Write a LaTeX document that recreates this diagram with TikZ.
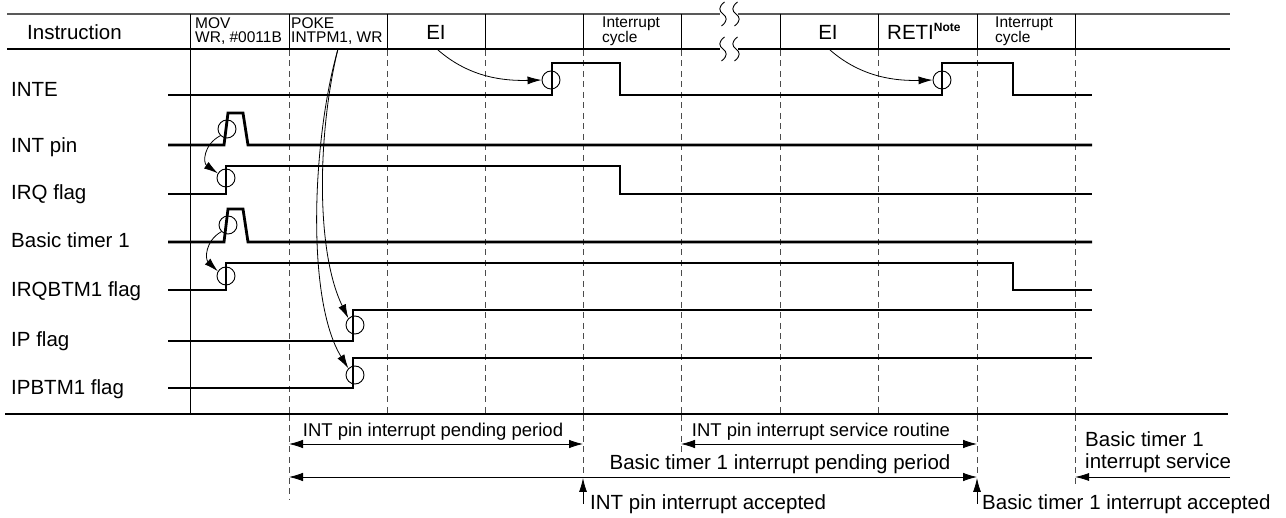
\documentclass[tikz,border=0pt]{standalone}
\usepackage{fontspec}
\setmainfont{Liberation Sans}
\usetikzlibrary{arrows.meta}
\begin{document}
\begin{tikzpicture}[x=1pt,y=-1pt,
  sig/.style={line width=2.8pt, line join=miter},
  thinl/.style={line width=0.9pt},
  gridl/.style={line width=1pt, black!70, dash pattern=on 6pt off 4.5pt},
  ring/.style={circle, draw, line width=0.9pt, minimum size=18pt, inner sep=0pt},
  arr/.style={line width=0.8pt, -{Latex[length=14pt,width=8pt]}},
  darr/.style={line width=0.8pt, {Latex[length=14pt,width=8.5pt]}-{Latex[length=14pt,width=8.5pt]}},
  big/.style={font=\fontsize{20.5}{22}\selectfont, inner sep=0pt},
  mid/.style={font=\fontsize{18.5}{20}\selectfont, inner sep=0pt},
  small/.style={font=\fontsize{15.5}{16}\selectfont, inner sep=0pt},
]
\useasboundingbox (0,0) rectangle (1286,518);

% header lines
\draw[line width=1.5pt, black!65] (7,14) -- (720,14) (738,14) -- (1230,14);
\draw[line width=1.2pt] (7,49) -- (720,49) (738,49) -- (1230,49);
\foreach \x in {190,289,387,485,583,681,780,878,977,1075}
  \draw[line width=1pt] (\x,14) -- (\x,49);
\draw[line width=1pt] (190,49) -- (190,414);
\foreach \x in {289,387,485,583,681,780,878,977,1075}
  \draw[gridl] (\x,50) -- (\x,414);
\draw[line width=1.2pt] (5,414) -- (1228,414);

% break marks
\foreach \x in {723,736}{
  \foreach \y in {2,37}{
    \draw[thinl] (\x+1.5,\y) .. controls (\x-5,\y+5) and (\x-4,\y+9) .. (\x,\y+12)
      .. controls (\x+4,\y+15) and (\x+5,\y+19) .. (\x-1.5,\y+24);
  }
}

% header texts
\node[big, anchor=base west] (hinstr) at (27,40) {Instruction};
\node[small, anchor=base west] (hmov1) at (195,29) {MOV};
\node[small, anchor=base west] (hmov2) at (195,43) {WR, \#0011B};
\node[small, anchor=base west] (hpoke1) at (291,29) {POKE};
\node[small, anchor=base west] (hpoke2) at (291,43) {INTPM1, WR};
\node[big, anchor=base] (hei1) at (436,40) {EI};
\node[small, anchor=base west] (hic1a) at (602,28) {Interrupt};
\node[small, anchor=base west] (hic1b) at (602,43) {cycle};
\node[big, anchor=base] (hei2) at (828,40) {EI};
\node[big, anchor=base west] (hreti) at (887,40) {RETI\raisebox{8pt}{\fontsize{12}{12}\selectfont\bfseries Note}};
\node[small, anchor=base west] (hic2a) at (995,28) {Interrupt};
\node[small, anchor=base west] (hic2b) at (995,43) {cycle};

% row labels
\node[big, anchor=base west] (linte) at (11,97) {INTE};
\node[big, anchor=base west] (lint) at (11,153) {INT pin};
\node[big, anchor=base west] (lirq) at (11,200) {IRQ flag};
\node[big, anchor=base west] (lbt) at (11,248) {Basic timer 1};
\node[big, anchor=base west] (lirqbt) at (11,297) {IRQBTM1 flag};
\node[big, anchor=base west] (lip) at (11,347) {IP flag};
\node[big, anchor=base west] (lipbt) at (11,395) {IPBTM1 flag};

% signals
\draw[sig] (168,95) -- (552,95) -- (552,63) -- (620,63) -- (620,95) -- (942,95) -- (942,63) -- (1013,63) -- (1013,95) -- (1092,95);
\draw[sig] (168,145) -- (224,145) -- (228,113) -- (243,113) -- (248,145) -- (1092,145);
\draw[sig] (168,194) -- (226,194) -- (226,166) -- (620,166) -- (620,194) -- (1092,194);
\draw[sig] (168,242) -- (224,242) -- (228,209) -- (243,209) -- (248,242) -- (1092,242);
\draw[sig] (168,290) -- (226,290) -- (226,263) -- (1013,263) -- (1013,290) -- (1092,290);
\draw[sig] (168,341) -- (353,341) -- (353,310) -- (1092,310);
\draw[sig] (168,388) -- (353,388) -- (353,358) -- (1092,358);

% circles
\node[ring] (cinte1) at (551,80) {};
\node[ring] (cinte2) at (942,80) {};
\node[ring] (cint) at (227,129) {};
\node[ring] (cirq) at (226,178) {};
\node[ring] (cbt) at (228,225) {};
\node[ring] (cirqbt) at (226,276) {};
\node[ring] (cip) at (355,325) {};
\node[ring] (cipbt) at (355,375) {};

% arrows
\coordinate (ei1s) at (438,50);
\coordinate (ei2s) at (830,50);
\coordinate (pokes) at (338,49);
\draw[arr] (ei1s) .. controls (470,78) and (505,81) .. (cinte1.west);
\draw[arr] (ei2s) .. controls (862,78) and (897,81) .. (cinte2.west);
\draw[arr] (cint.225) .. controls (203,145) and (203,163) .. (cirq.150);
\draw[arr] (cbt.225) .. controls (205,241) and (205,259) .. (cirqbt.150);
\draw[arr] (pokes) .. controls (318,130) and (315,250) .. (cip.135);
\draw[arr] (pokes) .. controls (312,140) and (306,300) .. (cipbt.135);

% bottom
\draw[gridl] (289,415) -- (289,500);
\draw[gridl] (583,415) -- (583,478);
\draw[gridl] (681,415) -- (681,452);
\draw[gridl] (977,415) -- (977,478);
\draw[gridl] (1075,415) -- (1075,486);

\coordinate (p289a) at (289,444);
\coordinate (p583a) at (583,444);
\coordinate (p681a) at (681,444);
\coordinate (p977a) at (977,444);
\coordinate (p289b) at (289,477);
\coordinate (p977b) at (977,477);
\coordinate (p1075b) at (1075,477);
\coordinate (p1230b) at (1230,477);
\coordinate (u583s) at (583,504);
\coordinate (u583e) at (583,478);
\coordinate (u977s) at (977,504);
\coordinate (u977e) at (977,478);

\draw[darr] (p289a) -- (p583a);
\draw[darr] (p681a) -- (p977a);
\draw[darr] (p289b) -- (p977b);
\draw[arr] (p1230b) -- (p1075b);
\draw[arr] (u583s) -- (u583e);
\draw[arr] (u977s) -- (u977e);

\node[mid, anchor=base] (tintpend) at (433,437) {INT pin interrupt pending period};
\node[mid, anchor=base] (tintserv) at (821,437) {INT pin interrupt service routine};
\node[big, anchor=base] (tbtpend) at (780,470) {Basic timer 1 interrupt pending period};
\node[big, anchor=base west] (tintacc) at (590,510) {INT pin interrupt accepted};
\node[big, anchor=base west] (tbtacc) at (982,510) {Basic timer 1 interrupt accepted};
\node[big, anchor=base west] (tbtserv1) at (1085,447) {Basic timer 1};
\node[big, anchor=base west] (tbtserv2) at (1085,469) {interrupt service};
\end{tikzpicture}
\end{document}
